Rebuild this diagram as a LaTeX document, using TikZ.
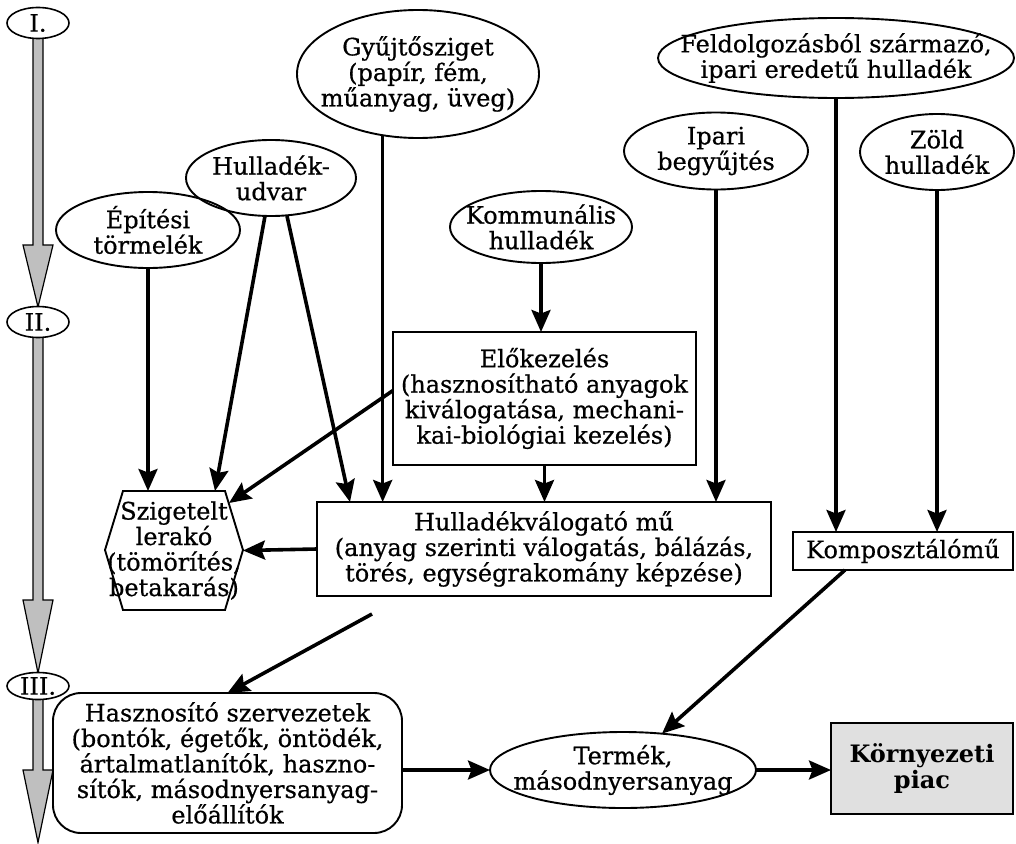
\documentclass[tikz,border=0pt]{standalone}
\usepackage{fontspec}
\setmainfont{DejaVu Serif}[UprightFeatures={FakeBold=0.6}]
\usetikzlibrary{arrows.meta,shapes.geometric}
\begin{document}
\begin{tikzpicture}[x=1pt,y=-1pt,
  every node/.style={font=\fontsize{24}{25.5}\selectfont, align=center, inner sep=0pt, outer sep=0pt},
  oval/.style={ellipse, draw, line width=1.9pt},
  box/.style={rectangle, draw, line width=1.9pt},
  arr/.style={line width=3.6pt, -{Stealth[length=22pt,width=19pt,inset=3.5pt]}},
  stagearr/.style={fill=black!25, draw=black, line width=1.2pt},
  stage/.style={ellipse, draw, fill=white, line width=1.6pt, minimum width=62pt}
]
\useasboundingbox (0,0) rectangle (1016,843);

% stage arrows
\path[stagearr] (33,38) -- (33,245) -- (23,245) -- (38,307) -- (53,245) -- (43,245) -- (43,38) -- cycle;
\path[stagearr] (33,336) -- (33,600) -- (23,600) -- (38,673) -- (53,600) -- (43,600) -- (43,336) -- cycle;
\path[stagearr] (33,697) -- (33,770) -- (23,770) -- (38,842.5) -- (53,770) -- (43,770) -- (43,697) -- cycle;
\node[stage, minimum height=31pt] (s1) at (38,23) {I.};
\node[stage, minimum height=31pt] (s2) at (38,322) {II.};
\node[stage, minimum height=27pt] (s3) at (38,686) {III.};

% ellipses
\node[oval, minimum width=242pt, minimum height=128pt] (gy) at (418,74) {};
\node at (gy.center) {Gyűjtősziget\\(papír, fém,\\műanyag, üveg)};
\node[oval, minimum width=356pt, minimum height=80pt] (feld) at (836,58) {};
\node at (feld.center) {Feldolgozásból származó,\\ipari eredetű hulladék};
\node[oval, minimum width=170pt, minimum height=76pt] (udvar) at (271,178) {};
\node at (udvar.center) {Hulladék-\\udvar};
\node[oval, minimum width=184pt, minimum height=76pt] (epit) at (148,230) {};
\node at (epit.center) {Építési\\törmelék};
\node[oval, minimum width=184pt, minimum height=77pt] (ipari) at (716,151) {};
\node at (ipari.center) {Ipari\\begyűjtés};
\node[oval, minimum width=154pt, minimum height=76pt] (zold) at (937,152) {};
\node at (zold.center) {Zöld\\hulladék};
\node[oval, minimum width=182pt, minimum height=72pt] (komm) at (541,227) {};
\node at (komm.center) {Kommunális\\hulladék};
\node[oval, minimum width=266pt, minimum height=76pt] (termek) at (623,770) {};
\node at (termek.center) {Termék,\\másodnyersanyag};

% boxes
\node[box, minimum width=303pt, minimum height=133pt] (elo) at (544.5,398.5) {Előkezelés\\(hasznosítható anyagok\\kiválogatása, mechani-\\kai-biológiai kezelés)};
\node[box, minimum width=454pt, minimum height=94pt] (hv) at (544,549) {Hulladékválogató mű\\(anyag szerinti válogatás, bálázás,\\törés, egységrakomány képzése)};
\node[box, minimum width=220pt, minimum height=38pt] (komp) at (903,551) {Komposztálómű};
\node[box, fill=black!12, minimum width=182pt, minimum height=91pt, font=\fontsize{24}{25.5}\selectfont\bfseries] (piac) at (922,768.5) {Környezeti\\piac};
\node[box, rounded corners=28pt, minimum width=349pt, minimum height=140pt] (hasz) at (227.5,763) {Hasznosító szervezetek\\(bontók, égetők, öntödék,\\ártalmatlanítók, haszno-\\sítók, másodnyersanyag-\\előállítók};

% hexagon
\draw[line width=1.9pt] (123,491) -- (225,491) -- (243,550) -- (225,610) -- (123,610) -- (105,550) -- cycle;
\node[minimum width=138pt, minimum height=119pt] (lr) at (174,550.5) {Szigetelt\\lerakó\\(tömörítés,\\betakarás)};
\coordinate (lrE) at (229,503);
\coordinate (hvout) at (372,614);

% connectors
\draw[arr] (epit.south) -- (epit.south |- lr.north);
\draw[arr] ([xshift=-6pt]udvar.south) -- ([xshift=41pt]lr.north);
\draw[arr] ([xshift=16pt]udvar.south) -- ([xshift=33pt]hv.north west);
\draw[arr] (gy.-120.6) -- (gy.-120.6 |- hv.north);
\draw[arr] (komm.south) -- (komm.south |- elo.north);
\draw[arr] (elo.south) -- (elo.south |- hv.north);
\draw[arr] (ipari.south) -- (ipari.south |- hv.north);
\draw[arr] (feld.south) -- (feld.south |- komp.north);
\draw[arr] (zold.south) -- (zold.south |- komp.north);
\draw[arr] ([yshift=8pt]elo.west) -- (lrE);
\draw[arr] (hv.west) -- (lr.east);
\draw[arr] (hvout) -- (hasz.north);
\draw[arr] ([xshift=52pt]komp.south west) -- (termek.43);
\draw[arr] (hasz.east |- termek.west) -- (termek.west);
\draw[arr] (termek.east) -- (termek.east -| piac.west);
\end{tikzpicture}
\end{document}
